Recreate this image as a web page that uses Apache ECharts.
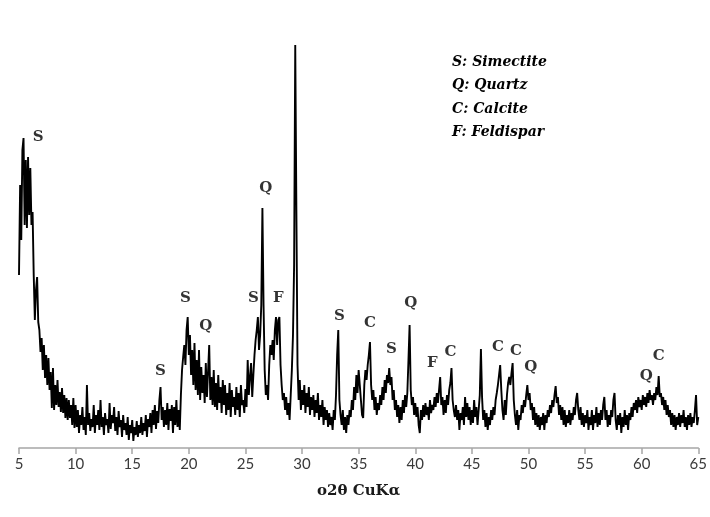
<!DOCTYPE html>
<html>
<head>
<meta charset="utf-8">
<title>XRD pattern</title>
<script src="https://cdn.jsdelivr.net/npm/echarts@6/dist/echarts.min.js"></script>
<style>
  html, body { margin: 0; padding: 0; background: #fff; }
  #chart { width: 710px; height: 517px; }
</style>
</head>
<body>
<div id="chart"></div>
<script>
// intensity rows, one row per degree, step 0.1 (x.0 ... x.9)
const startAngle = 5
const step = 0.1
const intensityRows = [
  [180, 270, 215, 305, 317, 230, 295, 227, 298, 240],
  [287, 230, 243, 180, 135, 165, 178, 133, 125, 103],
  [117, 85, 110, 77, 100, 70, 97, 65, 83, 47],
  [87, 45, 70, 50, 75, 48, 63, 43, 67, 42],
  [60, 37, 57, 35, 55, 37, 50, 30, 57, 27],
  [50, 28, 45, 22, 40, 30, 48, 25, 38, 20],
  [70, 30, 42, 24, 36, 28, 50, 22, 40, 30],
  [45, 25, 55, 28, 38, 20, 42, 30, 36, 22],
  [52, 26, 40, 32, 48, 24, 38, 20, 44, 28],
  [35, 18, 40, 25, 32, 20, 38, 15, 30, 22],
  [35, 14, 28, 20, 34, 18, 30, 22, 38, 20],
  [32, 24, 40, 18, 36, 28, 42, 22, 45, 30],
  [50, 26, 44, 32, 55, 68, 35, 48, 28, 45],
  [30, 52, 25, 46, 34, 50, 22, 48, 30, 55],
  [28, 45, 25, 60, 85, 98, 110, 90, 125, 138],
  [100, 120, 80, 105, 70, 112, 65, 95, 60, 105],
  [55, 88, 62, 80, 52, 92, 58, 60, 110, 55],
  [78, 50, 85, 48, 72, 45, 80, 52, 68, 42],
  [75, 50, 70, 40, 62, 45, 72, 38, 65, 48],
  [58, 40, 68, 45, 62, 38, 70, 50, 55, 42],
  [66, 48, 95, 60, 78, 92, 58, 80, 100, 115],
  [125, 138, 105, 120, 150, 247, 150, 85, 60, 70],
  [55, 90, 110, 100, 115, 95, 125, 138, 110, 135],
  [138, 90, 70, 55, 62, 45, 58, 40, 52, 35],
  [60, 85, 120, 190, 410, 245, 90, 55, 75, 45],
  [65, 50, 70, 42, 62, 48, 68, 40, 58, 45],
  [60, 38, 55, 42, 62, 35, 50, 38, 55, 30],
  [48, 35, 45, 28, 42, 30, 38, 25, 45, 35],
  [60, 100, 125, 55, 40, 30, 45, 25, 38, 22],
  [40, 30, 45, 38, 55, 45, 68, 55, 80, 62],
  [85, 70, 55, 40, 37, 70, 85, 75, 90, 100],
  [113, 70, 55, 65, 45, 58, 40, 52, 45, 60],
  [50, 68, 55, 75, 62, 80, 72, 87, 70, 78],
  [55, 65, 45, 55, 38, 50, 32, 48, 35, 55],
  [42, 60, 48, 62, 95, 130, 65, 50, 58, 40],
  [52, 38, 48, 30, 22, 45, 35, 50, 38, 52],
  [40, 48, 35, 55, 42, 50, 45, 58, 48, 62],
  [52, 65, 78, 50, 58, 40, 55, 42, 60, 50],
  [65, 72, 87, 55, 45, 38, 50, 35, 45, 25],
  [42, 35, 48, 30, 58, 38, 52, 35, 48, 30],
  [45, 32, 55, 38, 48, 30, 45, 60, 106, 58],
  [35, 45, 28, 42, 25, 38, 30, 45, 35, 48],
  [40, 55, 62, 70, 80, 90, 65, 45, 35, 55],
  [40, 60, 72, 78, 70, 82, 92, 55, 40, 30],
  [45, 25, 40, 35, 50, 42, 55, 48, 60, 70],
  [55, 62, 45, 52, 35, 48, 30, 42, 28, 40],
  [25, 38, 30, 42, 25, 40, 32, 45, 38, 50],
  [42, 55, 48, 60, 69, 52, 58, 40, 50, 35],
  [48, 30, 45, 28, 40, 32, 45, 30, 42, 35],
  [48, 40, 55, 62, 45, 35, 48, 30, 42, 28],
  [40, 32, 45, 25, 38, 30, 45, 25, 40, 32],
  [48, 28, 42, 30, 45, 35, 50, 58, 35, 45],
  [28, 40, 30, 45, 38, 55, 62, 35, 25, 40],
  [30, 42, 22, 38, 28, 45, 30, 40, 25, 42],
  [35, 48, 38, 52, 45, 55, 42, 58, 48, 55],
  [45, 60, 50, 58, 48, 62, 52, 65, 55, 60],
  [50, 62, 55, 68, 60, 79, 58, 62, 50, 58],
  [45, 55, 40, 50, 38, 45, 30, 42, 28, 40],
  [25, 38, 30, 42, 28, 40, 32, 45, 28, 38],
  [25, 40, 30, 42, 28, 38, 32, 45, 60, 30],
  [38]
]

// peak labels
const peakNames = ['S', 'S', 'S', 'Q', 'S', 'Q', 'F', 'C', 'S', 'C', 'S', 'Q', 'F', 'C', 'C', 'C', 'Q', 'Q', 'C']
const peakAngles = [6.7, 17.5, 19.7, 21.5, 25.7, 26.8, 27.9, 29.45, 33.3, 36.0, 37.9, 39.6, 41.5, 43.1, 47.3, 48.9, 50.2, 60.4, 61.5]
const peakHeights = [318, 84, 157, 129, 157, 267, 157, 435, 139, 132, 106, 152, 92, 103, 108, 104, 88, 79, 99]

const legendLines = ['S: Simectite', 'Q: Quartz', 'C: Calcite', 'F: Feldispar']
const xTicks = { min: 5, max: 65, interval: 5 }

let xrd = []
intensityRows.forEach((row, r) => {
  row.forEach((v, i) => {
    let a = +(startAngle + r + i * step).toFixed(2)
    xrd.push([a, v])
  })
})

let labelData = peakNames.map((n, i) => ({ value: [peakAngles[i], peakHeights[i]], name: n }))

let myChart = echarts.init(document.getElementById('chart'))
let option = {
  animation: false,
  backgroundColor: '#fff',
  grid: {
    left: 19,
    right: 11,
    top: 35,
    bottom: 69
  },
  xAxis: {
    type: 'value',
    min: xTicks.min,
    max: xTicks.max,
    interval: xTicks.interval,
    name: 'o2θ CuKα',
    nameLocation: 'middle',
    nameGap: 36,
    nameTextStyle: {
      fontFamily: 'DejaVu Serif',
      fontWeight: 'bold',
      fontSize: 15,
      color: '#1a1a1a'
    },
    axisLine: { show: true, lineStyle: { color: '#a6a6a6', width: 1.5 } },
    axisTick: { show: true, length: 6, lineStyle: { color: '#a6a6a6', width: 1.5 } },
    axisLabel: {
      margin: 9,
      fontFamily: 'Lato',
      fontSize: 15,
      color: '#3a3a3a',
      showMinLabel: true,
      showMaxLabel: true
    },
    splitLine: { show: false }
  },
  yAxis: {
    type: 'value',
    min: 7,
    max: 420,
    show: false
  },
  series: [
    {
      type: 'line',
      data: xrd,
      showSymbol: false,
      symbol: 'none',
      lineStyle: { color: '#000', width: 1.9 },
      z: 2
    },
    {
      type: 'scatter',
      data: labelData,
      symbolSize: 1,
      itemStyle: { color: 'rgba(0,0,0,0)' },
      label: {
        show: true,
        position: 'inside',
        formatter: p => p.name,
        fontFamily: 'DejaVu Serif',
        fontWeight: 'bold',
        fontSize: 15,
        color: '#000'
      },
      z: 3
    }
  ],
  graphic: legendLines.map((t, i) => ({
    type: 'text',
    left: 452,
    top: 55 + i * 23.5,
    style: {
      text: t,
      font: 'italic bold 14px "DejaVu Serif"',
      fill: '#000'
    }
  }))
}
myChart.setOption(option)
</script>
</body>
</html>
